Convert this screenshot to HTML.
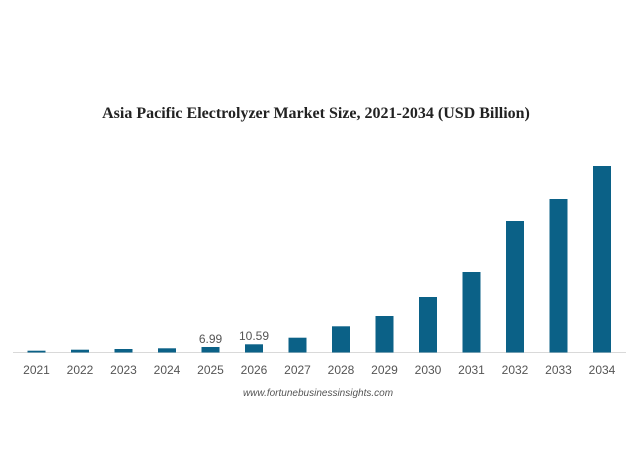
<!DOCTYPE html>
<html><head><meta charset="utf-8"><style>
body{margin:0;background:#fff;}
</style></head><body>
<svg width="628" height="471" xmlns="http://www.w3.org/2000/svg">
<rect width="628" height="471" fill="#fff"/>
<text x="316" y="118" text-anchor="middle" font-family="Liberation Serif, serif" font-weight="bold" font-size="16" fill="#222">Asia Pacific Electrolyzer Market Size, 2021-2034 (USD Billion)</text>
<line x1="13" y1="352.5" x2="626" y2="352.5" stroke="#d9d9d9" stroke-width="1"/>
<g fill="#0b6187">
<rect x="27.5" y="350.7" width="18" height="1.8"/>
<rect x="71" y="349.7" width="18" height="2.8"/>
<rect x="114.5" y="349" width="18" height="3.5"/>
<rect x="158" y="348.3" width="18" height="4.2"/>
<rect x="201.5" y="347" width="18" height="5.5"/>
<rect x="245" y="344.3" width="18" height="8.2"/>
<rect x="288.5" y="337.7" width="18" height="14.8"/>
<rect x="332" y="326.3" width="18" height="26.2"/>
<rect x="375.5" y="316" width="18" height="36.5"/>
<rect x="419" y="297" width="18" height="55.5"/>
<rect x="462.5" y="272" width="18" height="80.5"/>
<rect x="506" y="221" width="18" height="131.5"/>
<rect x="549.5" y="199" width="18" height="153.5"/>
<rect x="593" y="166" width="18" height="186.5"/>
</g>
<g font-family="Liberation Sans, sans-serif" font-size="12" fill="#555" text-anchor="middle">
<text x="210.5" y="343">6.99</text>
<text x="254" y="340">10.59</text>
<text x="36.5" y="374">2021</text>
<text x="80" y="374">2022</text>
<text x="123.5" y="374">2023</text>
<text x="167" y="374">2024</text>
<text x="210.5" y="374">2025</text>
<text x="254" y="374">2026</text>
<text x="297.5" y="374">2027</text>
<text x="341" y="374">2028</text>
<text x="384.5" y="374">2029</text>
<text x="428" y="374">2030</text>
<text x="471.5" y="374">2031</text>
<text x="515" y="374">2032</text>
<text x="558.5" y="374">2033</text>
<text x="602" y="374">2034</text>
</g>
<text x="318" y="396" text-anchor="middle" font-family="Liberation Sans, sans-serif" font-style="italic" font-size="10" fill="#555">www.fortunebusinessinsights.com</text>
</svg>
</body></html>
